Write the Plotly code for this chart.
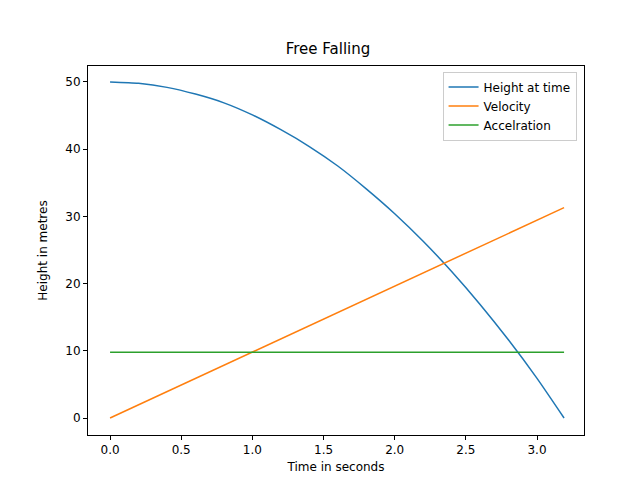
import plotly.graph_objects as go

# values
t_height = [0.0, 0.2, 0.4, 0.6, 0.8, 1.0, 1.2, 1.4, 1.6, 1.8, 2.0, 2.2, 2.4, 2.6, 2.8, 3.0, 3.19]
height = [50.0, 49.8, 49.2, 48.2, 46.9, 45.1, 42.9, 40.4, 37.5, 34.1, 30.4, 26.3, 21.8, 16.9, 11.6, 5.9, 0.0]
t_line = [0.0, 3.19]
velocity = [0.0, 31.3]
acceleration = [9.8, 9.8]

fig = go.Figure()
fig.add_trace(go.Scatter(x=t_height, y=height, mode='lines', name='Height at time',
                         line=dict(color='#1f77b4', width=1.5, shape='spline', smoothing=0.6)))
fig.add_trace(go.Scatter(x=t_line, y=velocity, mode='lines', name='Velocity',
                         line=dict(color='#ff7f0e', width=1.5)))
fig.add_trace(go.Scatter(x=t_line, y=acceleration, mode='lines', name='Accelration',
                         line=dict(color='#2ca02c', width=1.5)))

axis_style = dict(showgrid=False, zeroline=False, showline=True, linecolor='black',
                  linewidth=1, mirror=True, ticks='outside', ticklen=4, tickcolor='black',
                  automargin=False, tickfont=dict(size=12, color='black'))
fig.update_layout(
    width=640, height=480,
    margin=dict(l=80, r=64, t=58, b=53, autoexpand=False),
    paper_bgcolor='white', plot_bgcolor='white',
    font=dict(family='DejaVu Sans', color='black'),
    title=dict(text='Free Falling', x=0.5, xanchor='center', y=0.905, yanchor='bottom',
               font=dict(size=15)),
    xaxis=dict(title=dict(text='Time in seconds', font=dict(size=12), standoff=6),
               range=[-0.155, 3.33],
               tickvals=[0, 0.5, 1, 1.5, 2, 2.5, 3],
               ticktext=['0.0', '0.5', '1.0', '1.5', '2.0', '2.5', '3.0'], **axis_style),
    yaxis=dict(title=dict(text='Height in metres', font=dict(size=12)), range=[-2.53, 52.38],
               tickvals=[0, 10, 20, 30, 40, 50], **axis_style),
    legend=dict(x=0.985, y=0.985, xanchor='right', yanchor='top', bordercolor='#cccccc',
                borderwidth=1, bgcolor='white', font=dict(size=12)),
    showlegend=True,
)
fig.write_html("out.html")
